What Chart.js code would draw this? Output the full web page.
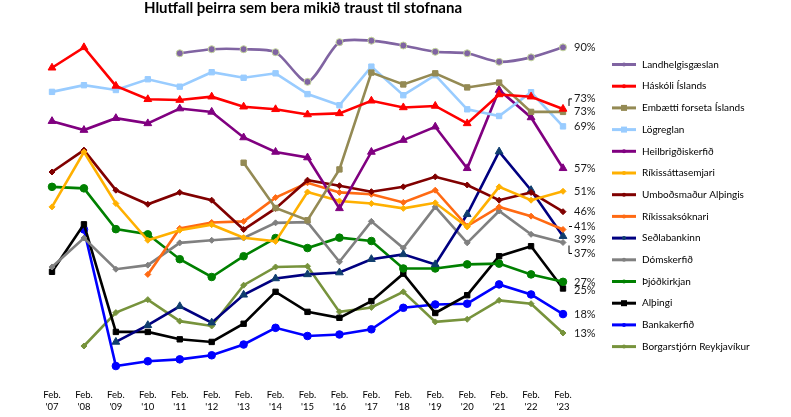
<!DOCTYPE html>
<html>
<head>
<meta charset="utf-8">
<script src="https://cdn.jsdelivr.net/npm/chart.js@4/dist/chart.umd.min.js"></script>
<style>
  html, body { margin: 0; padding: 0; background: #fff; }
</style>
</head>
<body>
<canvas id="chart" width="791" height="417"></canvas>
<script>
// categories (x axis)
const categories = ["Feb. '07", "Feb. '08", "Feb. '09", "Feb. '10", "Feb. '11", "Feb. '12", "Feb. '13", "Feb. '14",
  "Feb. '15", "Feb. '16", "Feb. '17", "Feb. '18", "Feb. '19", "Feb. '20", "Feb. '21", "Feb. '22", "Feb. '23"];

const chartTitle = 'Hlutfall þeirra sem bera mikið traust til stofnana';

// series values, % of people with high trust, null = not asked that year
const landhelgisgaeslan = [null, null, null, null, 88.4, 89.5, 89.5, 88.7, 80.7, 91.4, 91.8, 90.5, 88.8, 88.4, 86.1, 87.3, 90];
const haskoli = [84.5, 90, 79.6, 76, 75.8, 76.7, 74, 73.3, 71.9, 72.2, 75.6, 73.8, 74.2, 69.5, 77.3, 76.7, 73.4];
const forseti = [null, null, null, null, null, null, 58.9, 46.7, 43.4, 57.1, 83.2, 80, 83, 79.2, 80.5, 72.6, 72.6];
const logreglan = [78, 79.8, 78.5, 81.4, 79.4, 83.3, 81.8, 83, 77.4, 74.4, 84.8, 77.1, 82.5, 73.3, 71.5, 77.9, 68.7];
const heilbrigdi = [70.1, 67.7, 70.9, 69.5, 73.5, 72.6, 65.7, 61.8, 60.3, 46.6, 61.8, 65, 68.6, 57.4, 78.5, 71.1, 57.4];
const rikissatta = [47, 61.8, 47.9, 38, 40.7, 42.2, 38.7, 37.7, 51, 48.6, 47.9, 46.6, 48.1, 41.6, 52.4, 48.8, 51.2];
const umbodsmadur = [56.4, 62.3, 51.5, 47.7, 50.9, 48.8, 40.9, 46.6, 54.2, 52.7, 51.1, 52.4, 55.1, 52.9, 48.8, 50.9, 45.7];
const rikissak = [null, null, null, 28.8, 41.2, 42.8, 43.1, 49.5, 53.5, 50.9, 50.4, 48.2, 51.5, 41.8, 47, 44.5, 40.9];
const sedlabanki = [null, null, 10.6, 15.1, 20.2, 15.8, 23.3, 27.7, 28.8, 29.3, 32.9, 34.2, 31.5, 45, 61.9, 51.5, 39.1];
const domskerfi = [30.8, 38.6, 30.2, 31.3, 37.3, 38, 38.6, 42.7, 42.9, 32.2, 43.1, 35.9, 47, 37.3, 45.9, 39.6, 37.4];
const thjodkirkja = [52.4, 52, 41, 39.6, 32.9, 28.1, 33.7, 38.6, 35.9, 38.7, 37.8, 30.4, 30.4, 31.5, 31.7, 28.8, 26.8];
const althingi = [29.5, 42.3, 13.3, 13.3, 11.3, 10.6, 15.5, 24.1, 18.7, 17.1, 21.6, 29, 18.4, 23.2, 33.7, 36.4, 25];
const bankakerfi = [null, 40.9, 4.1, 5.4, 5.9, 7, 9.9, 14.4, 12.2, 12.6, 14, 19.8, 20.7, 20.9, 26.1, 23.4, 18.1];
const borgarstjorn = [null, 9.5, 18.5, 22, 16.2, 14.9, 25.9, 30.8, 31, 18.7, 19.9, 24.1, 16, 16.7, 21.8, 20.9, 13];

const FONT = 'Lato, "Liberation Sans", sans-serif';

// helper so every series looks the same apart from colour/marker
function series(label, data, color, marker, extra) {
  return Object.assign({
    label: label,
    data: data,
    borderColor: color,
    backgroundColor: color,
    pointBackgroundColor: color,
    pointBorderColor: color,
    pointStyle: marker,
    pointRadius: marker === 'rectRot' ? 3 : (marker === 'triangle' ? 4.5 : 3.8),
    pointBorderWidth: 1,
    borderWidth: 2.6,
    tension: 0,
    spanGaps: false,
    clip: false
  }, extra || {});
}

const datasets = [
  series('Landhelgisgæslan', landhelgisgaeslan, '#8064A2', 'circle', { pointBorderColor: '#C4D79B', tension: 0.25, pointRadius: 3.5 }),
  series('Háskóli Íslands', haskoli, '#FF0000', 'triangle'),
  series('Embætti forseta Íslands', forseti, '#948A54', 'rect'),
  series('Lögreglan', logreglan, '#99CCFF', 'rect'),
  series('Heilbrigðiskerfið', heilbrigdi, '#800080', 'triangle'),
  series('Ríkissáttasemjari', rikissatta, '#FFB000', 'rectRot'),
  series('Umboðsmaður Alþingis', umbodsmadur, '#800000', 'rectRot'),
  series('Ríkissaksóknari', rikissak, '#FF6A13', 'rectRot'),
  series('Seðlabankinn', sedlabanki, '#000080', 'triangle', { pointBackgroundColor: '#0F3D6E', pointBorderColor: '#0F3D6E' }),
  series('Dómskerfið', domskerfi, '#808080', 'rectRot'),
  series('Þjóðkirkjan', thjodkirkja, '#008000', 'circle'),
  series('Alþingi', althingi, '#000000', 'rect'),
  series('Bankakerfið', bankakerfi, '#0000FF', 'circle'),
  series('Borgarstjórn Reykjavíkur', borgarstjorn, '#77933C', 'rectRot')
];

// where end labels are pushed up/down so they don't sit on top of each other (pixels)
const labelNudge = { 'Háskóli Íslands': -10, 'Ríkissaksóknari': -3, 'Seðlabankinn': 3, 'Dómskerfið': 11, 'Þjóðkirkjan': 1, 'Alþingi': 2 };
const leaderLines = ['Háskóli Íslands', 'Ríkissaksóknari', 'Dómskerfið'];

// draws title, the % labels at the end of each line and the legend on the right
const extras = {
  id: 'extras',
  afterDraw(chart) {
    const ctx = chart.ctx;
    ctx.save();

    // title
    ctx.font = 'bold 15px ' + FONT;
    ctx.fillStyle = '#000';
    ctx.textAlign = 'center';
    ctx.textBaseline = 'middle';
    ctx.fillText(chartTitle, 303, 8);

    // end labels
    ctx.font = '11px ' + FONT;
    ctx.textAlign = 'left';
    ctx.fillStyle = '#1a1a1a';
    chart.data.datasets.forEach((ds, i) => {
      const meta = chart.getDatasetMeta(i);
      const last = meta.data[meta.data.length - 1];
      const v = ds.data[ds.data.length - 1];
      const nudge = labelNudge[ds.label] || 0;
      const lx = last.x + 11;
      const ly = last.y + nudge;
      ctx.fillText(Math.round(v) + '%', lx, ly);
      if (leaderLines.includes(ds.label)) {
        ctx.strokeStyle = '#000';
        ctx.lineWidth = 1;
        ctx.beginPath();
        ctx.moveTo(lx - 2, ly);
        ctx.lineTo(lx - 5, ly);
        ctx.lineTo(lx - 5, last.y + (nudge < 0 ? -3 : 3));
        ctx.stroke();
      }
    });

    // legend
    ctx.font = '10px ' + FONT;
    chart.data.datasets.forEach((ds, i) => {
      const y = 64.5 + i * 21.7;
      ctx.strokeStyle = ds.borderColor;
      ctx.lineWidth = 3;
      ctx.beginPath();
      ctx.moveTo(612, y);
      ctx.lineTo(636, y);
      ctx.stroke();
      ctx.fillStyle = ds.pointBackgroundColor;
      if (ds.pointStyle === 'rect') ctx.fillRect(621, y - 3, 6, 6);
      else { ctx.beginPath(); ctx.arc(624, y, 2, 0, Math.PI * 2); ctx.fill(); }
      ctx.fillStyle = '#000';
      ctx.fillText(ds.label, 642, y);
    });
    ctx.restore();
  }
};

new Chart(document.getElementById('chart'), {
  type: 'line',
  data: { labels: categories, datasets: datasets },
  options: {
    responsive: false,
    animation: false,
    devicePixelRatio: 1,
    layout: { padding: { left: 52, right: 228, top: 28.8, bottom: -4 } },
    plugins: { legend: { display: false }, title: { display: false }, tooltip: { enabled: false } },
    scales: {
      x: {
        offset: false,
        grid: { display: false, drawTicks: false },
        border: { display: false },
        ticks: {
          autoSkip: false, maxRotation: 0, padding: 8, color: '#000',
          font: { family: FONT, size: 9.5, lineHeight: 1.25 },
          callback: function (val) {
            const s = this.getLabelForValue(val);
            return s.split(' ');
          }
        }
      },
      y: { display: false, min: 0, max: 95 }
    }
  },
  plugins: [extras]
});
</script>
</body>
</html>
